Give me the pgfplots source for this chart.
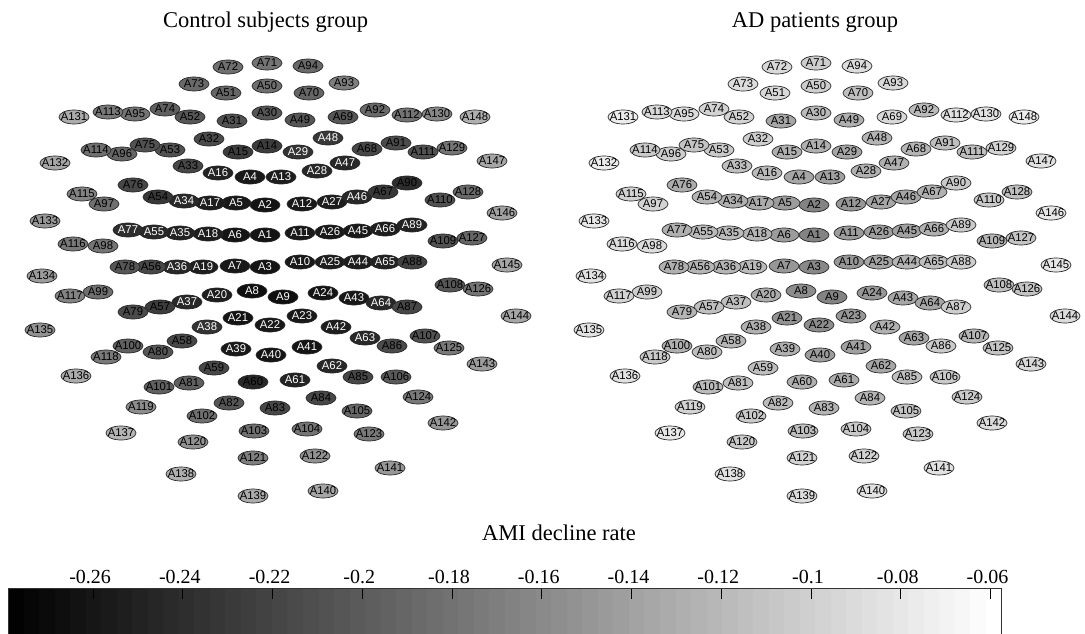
\documentclass[border=0pt]{standalone}
\usepackage{pgfplots}
\pgfplotsset{compat=1.18}
\usepackage{pgfplotstable}
\usepackage{fontspec}
\setmainfont{Liberation Serif}
\newfontfamily\labfont{Liberation Sans}

\pgfplotstableread{
lbl x y vc vad w
A1 265 235 -0.262 -0.166 1
A2 265 205 -0.262 -0.166 1
A3 265 267 -0.262 -0.162 1
A4 250 177 -0.257 -0.136 1
A5 236 203 -0.257 -0.144 1
A6 235 235 -0.262 -0.144 1
A7 235 266 -0.257 -0.149 1
A8 252 291 -0.266 -0.157 1
A9 283 297 -0.266 -0.166 1
A10 300 262 -0.257 -0.149 1
A11 300 233 -0.257 -0.144 1
A12 302 204 -0.257 -0.149 1
A13 281 177 -0.253 -0.140 1
A14 267 146 -0.227 -0.127 0
A15 238 152 -0.227 -0.127 0
A16 218 173 -0.249 -0.118 1
A17 210 203 -0.253 -0.131 1
A18 208 234 -0.253 -0.123 1
A19 203 267 -0.253 -0.118 1
A20 217 295 -0.253 -0.131 1
A21 238 318 -0.262 -0.153 1
A22 270 325 -0.257 -0.157 1
A23 302 316 -0.257 -0.149 1
A24 323 293 -0.262 -0.149 1
A25 330 262 -0.253 -0.136 1
A26 330 232 -0.257 -0.140 1
A27 332 202 -0.253 -0.136 1
A28 317 171 -0.244 -0.127 1
A29 298 152 -0.235 -0.136 1
A30 267 113 -0.205 -0.118 0
A31 232 121 -0.209 -0.136 0
A32 209 139 -0.214 -0.101 0
A33 188 166 -0.218 -0.114 0
A34 184 201 -0.244 -0.127 1
A35 180 233 -0.249 -0.118 1
A36 177 267 -0.244 -0.123 1
A37 187 302 -0.244 -0.114 1
A38 207 327 -0.235 -0.127 1
A39 236 349 -0.257 -0.127 1
A40 271 355 -0.262 -0.144 1
A41 307 347 -0.262 -0.140 1
A42 336 327 -0.253 -0.127 1
A43 354 298 -0.257 -0.136 1
A44 358 262 -0.253 -0.123 1
A45 358 231 -0.257 -0.140 1
A46 357 197 -0.244 -0.136 1
A47 345 163 -0.244 -0.127 1
A48 328 138 -0.231 -0.123 1
A49 300 120 -0.205 -0.127 0
A50 267 86 -0.183 -0.101 0
A51 226 93 -0.192 -0.092 0
A52 190 117 -0.205 -0.097 0
A53 170 150 -0.209 -0.105 0
A54 158 197 -0.231 -0.123 0
A55 154 232 -0.244 -0.118 1
A56 151 267 -0.218 -0.123 0
A57 160 307 -0.227 -0.114 0
A58 182 341 -0.218 -0.123 0
A59 214 368 -0.218 -0.114 0
A60 253 382 -0.244 -0.127 0
A61 295 380 -0.249 -0.131 1
A62 332 366 -0.244 -0.136 1
A63 365 338 -0.244 -0.136 1
A64 381 303 -0.244 -0.136 1
A65 385 262 -0.249 -0.114 1
A66 385 229 -0.253 -0.127 1
A67 383 192 -0.231 -0.127 0
A68 367 149 -0.218 -0.123 0
A69 343 117 -0.205 -0.092 0
A70 309 93 -0.192 -0.114 0
A71 267 63 -0.179 -0.101 0
A72 228 67 -0.183 -0.092 0
A73 194 84 -0.188 -0.088 0
A74 165 109 -0.196 -0.097 0
A75 145 145 -0.209 -0.110 0
A76 133 185 -0.218 -0.131 0
A77 128 230 -0.240 -0.127 1
A78 125 267 -0.205 -0.127 0
A79 133 312 -0.214 -0.123 0
A80 158 352 -0.205 -0.114 0
A81 189 383 -0.196 -0.114 0
A82 229 403 -0.205 -0.118 0
A83 275 408 -0.218 -0.123 0
A84 321 398 -0.218 -0.123 0
A85 358 377 -0.218 -0.114 0
A86 392 346 -0.214 -0.105 0
A87 407 307 -0.218 -0.101 0
A88 412 262 -0.222 -0.101 0
A89 412 225 -0.249 -0.105 1
A90 407 183 -0.240 -0.105 0
A91 396 143 -0.214 -0.114 0
A92 375 110 -0.188 -0.118 0
A93 344 83 -0.170 -0.092 0
A94 308 66 -0.188 -0.088 0
A95 135 114 -0.179 -0.088 0
A96 122 154 -0.192 -0.101 0
A97 104 204 -0.183 -0.097 0
A98 103 246 -0.179 -0.088 0
A99 98 292 -0.183 -0.101 0
A100 128 346 -0.196 -0.127 0
A101 159 387 -0.196 -0.118 0
A102 202 416 -0.183 -0.105 0
A103 254 431 -0.183 -0.114 0
A104 307 429 -0.179 -0.105 0
A105 357 411 -0.192 -0.110 0
A106 396 377 -0.201 -0.105 0
A107 425 336 -0.209 -0.123 0
A108 450 285 -0.205 -0.114 0
A109 443 241 -0.209 -0.123 0
A110 440 200 -0.209 -0.105 0
A111 423 152 -0.209 -0.114 0
A112 407 115 -0.179 -0.084 0
A113 108 112 -0.175 -0.092 0
A114 96 150 -0.183 -0.105 0
A115 82 194 -0.166 -0.097 0
A116 73 244 -0.175 -0.088 0
A117 70 296 -0.166 -0.097 0
A118 106 357 -0.175 -0.105 0
A119 141 407 -0.157 -0.097 0
A120 193 442 -0.153 -0.105 0
A121 253 458 -0.170 -0.097 0
A122 315 456 -0.153 -0.097 0
A123 369 434 -0.175 -0.105 0
A124 418 397 -0.175 -0.105 0
A125 449 348 -0.175 -0.110 0
A126 478 289 -0.179 -0.110 0
A127 472 238 -0.192 -0.110 0
A128 468 192 -0.188 -0.114 0
A129 452 148 -0.179 -0.097 0
A130 437 114 -0.162 -0.084 0
A131 74 117 -0.131 -0.075 0
A132 55 163 -0.136 -0.075 0
A133 45 221 -0.149 -0.079 0
A134 42 276 -0.144 -0.084 0
A135 40 330 -0.153 -0.084 0
A136 76 376 -0.131 -0.084 0
A137 121 433 -0.123 -0.079 0
A138 181 474 -0.127 -0.084 0
A139 253 496 -0.131 -0.088 0
A140 323 491 -0.136 -0.084 0
A141 390 468 -0.149 -0.084 0
A142 443 423 -0.149 -0.088 0
A143 482 364 -0.144 -0.092 0
A144 516 316 -0.136 -0.088 0
A145 507 265 -0.136 -0.079 0
A146 502 213 -0.140 -0.079 0
A147 492 161 -0.136 -0.084 0
A148 475 117 -0.127 -0.075 0
}\sensors

% ellipse marker of the sensors (30 x 14 pt)
\pgfdeclareplotmark{sensell}{%
  \pgfpathellipse{\pgfpointorigin}{\pgfpoint{15pt}{0pt}}{\pgfpoint{0pt}{7pt}}%
  \pgfusepathqfillstroke}

\pgfplotsset{
  ellplot/.style={scatter, only marks, mark=sensell,
    scatter/use mapped color={draw=black!85, fill=mapped color},
    mark options={line width=0.7pt}},
  labplot/.style={only marks, mark=none, point meta=explicit symbolic,
    nodes near coords, nodes near coords align={center},
    every node near coord/.append style={anchor=center, inner sep=0pt,
      font=\labfont\fontsize{11.3}{11.3}\selectfont, text=#1}},
}

\begin{document}
\begin{tikzpicture}
\useasboundingbox (0,0) rectangle (1085pt,634pt);
\begin{axis}[
  at={(0pt,0pt)}, anchor=south west,
  scale only axis, width=1085pt, height=634pt,
  xmin=0, xmax=1085, ymin=0, ymax=634, y dir=reverse,
  axis lines=none, clip=false,
  colormap/blackwhite,
  point meta min=-0.2789, point meta max=-0.0575,
  colorbar horizontal,
  colorbar sampled,
  colorbar style={
    at={(8.3pt,-2pt)}, anchor=south west,
    axis lines=box, y dir=normal,
    scale only axis, width=993.4pt, height=56pt,
    samples=65,
    xmin=-0.2789, xmax=-0.0575, ymin=0, ymax=1,
    xtick={-0.26,-0.24,-0.22,-0.2,-0.18,-0.16,-0.14,-0.12,-0.1,-0.08,-0.06},
    xticklabels={-0.26,-0.24,-0.22,-0.2,-0.18,-0.16,-0.14,-0.12,-0.1,-0.08,-0.06},
    xticklabel pos=upper, xtick pos=both,
    tick align=inside, major tick length=10pt,
    tick style={black, line width=0.8pt},
    axis line style={black!80, line width=0.8pt},
    ytick=\empty,
    xticklabel style={font=\fontsize{20}{20}\selectfont, anchor=base, xshift=-3pt, yshift=5pt},
  },
]
% control subjects group
\addplot[ellplot, point meta=\thisrow{vc}] table[x=x, y=y] {\sensors};
\addplot[labplot=white, restrict expr to domain={\thisrow{w}}{0.5:1.5}]
  table[x=x, y=y, meta=lbl] {\sensors};
\addplot[labplot=black, restrict expr to domain={\thisrow{w}}{-0.5:0.5}]
  table[x=x, y=y, meta=lbl] {\sensors};
% AD patients group
\addplot[ellplot, point meta=\thisrow{vad}] table[x expr=\thisrow{x}+549, y=y] {\sensors};
\addplot[labplot=black] table[x expr=\thisrow{x}+549, y=y, meta=lbl] {\sensors};

\node[anchor=base, font=\fontsize{22.5}{22.5}\selectfont] at (axis cs:265.5,28) {Control subjects group};
\node[anchor=base, font=\fontsize{22.5}{22.5}\selectfont] at (axis cs:815,28) {AD patients group};
\node[anchor=base, font=\fontsize{22.5}{22.5}\selectfont] at (axis cs:559,540) {AMI decline rate};
\end{axis}
\end{tikzpicture}
\end{document}
